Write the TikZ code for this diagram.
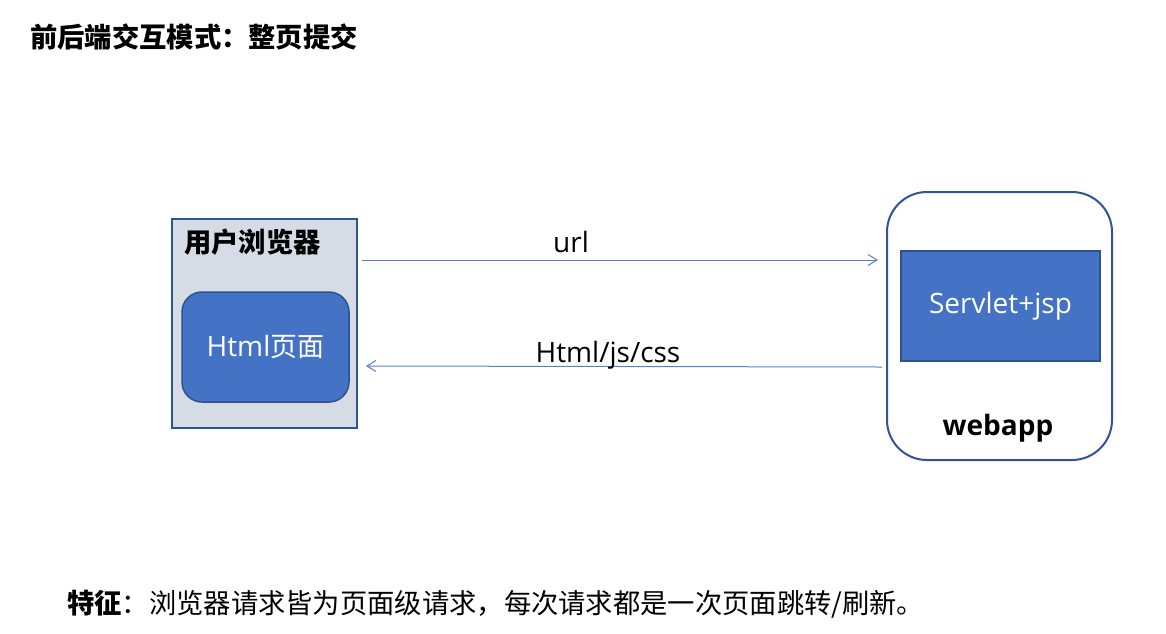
\documentclass[tikz,border=0pt]{standalone}
\usepackage{fontspec}
\setmainfont{Open Sans}
\newfontfamily\cjk{Noto Sans CJK SC}
\usetikzlibrary{arrows.meta}
\definecolor{boxfill}{HTML}{D6DCE5}
\definecolor{boxline}{HTML}{2F5597}
\definecolor{bluefill}{HTML}{4472C4}
\definecolor{blueline}{HTML}{2F528F}
\definecolor{arrowc}{HTML}{5B7FC4}
\newcommand\cjksize{\fontsize{27.3}{32}\selectfont}
\newcommand\latsize{\fontsize{28}{32}\selectfont}
\tikzset{
  txt/.style={font=\latsize, inner sep=0pt},
  outerbox/.style={draw=boxline, line width=2pt},
  innerbox/.style={draw=blueline, fill=bluefill, line width=1.5pt, text=white, font=\latsize},
  flow/.style={draw=arrowc, line width=1pt, -{Straight Barb[length=9pt,width=11pt,line width=1pt]}}
}
\begin{document}
\begin{tikzpicture}[x=1pt,y=-1pt]
\useasboundingbox (0,0) rectangle (1166,633);
\node[txt, anchor=west] (title) at (30,37) {\cjk\cjksize\bfseries 前后端交互模式：整页提交};
\node[outerbox, fill=boxfill, minimum width=185pt, minimum height=209pt] (browser) at (264.5,323.5) {};
\node[txt, anchor=west] (browserlbl) at (184,242) {\cjk\cjksize\bfseries 用户浏览器};
\node[innerbox, rounded corners=20pt, minimum width=167pt, minimum height=110pt] (html) at (265.5,347) {Html{\cjk\fontsize{27}{32}\selectfont 页面}};
\node[outerbox, fill=white, rounded corners=40pt, minimum width=225pt, minimum height=268pt] (webapp) at (999.5,326) {};
\node[innerbox, minimum width=199pt, minimum height=110pt] (servlet) at (1000.5,306) {Servlet+jsp};
\node[txt, font=\latsize\bfseries] (webapplbl) at (998,428) {webapp};
\draw[flow] ([shift={(4,42)}]browser.north east) -- ([shift={(-8,69)}]webapp.north west);
\draw[flow] ([shift={(-4,176)}]webapp.north west) -- ([shift={(8,148)}]browser.north east);
\node[txt] (url) at (571,242) {url};
\node[txt] (resp) at (608,355) {Html/js/css};
\node[txt, anchor=west] (note) at (67,604) {\cjk\cjksize{\bfseries 特征}：浏览器请求皆为页面级请求，每次请求都是一次页面跳转/刷新。};
\end{tikzpicture}
\end{document}
